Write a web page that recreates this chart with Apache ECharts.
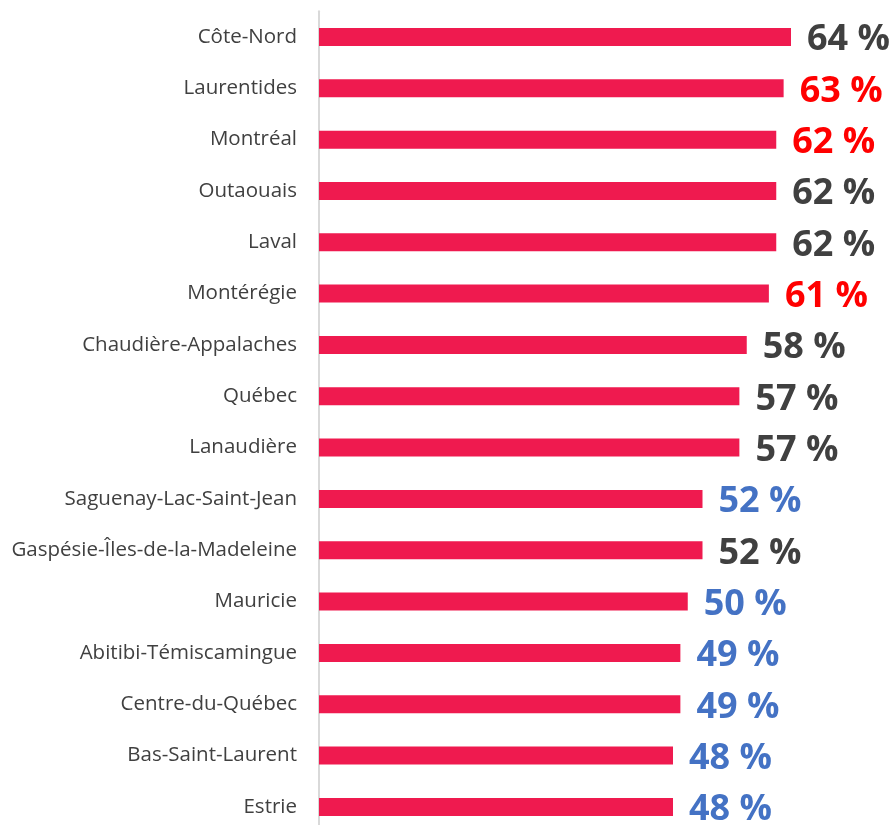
<!DOCTYPE html>
<html>
<head>
<meta charset="utf-8">
<script src="https://cdn.jsdelivr.net/npm/echarts@6/dist/echarts.min.js"></script>
<style>
  html, body { margin: 0; padding: 0; background: #fff; }
  #chart { width: 893px; height: 825px; }
</style>
</head>
<body>
<div id="chart"></div>
<script>
const regions = [
  'Côte-Nord', 'Laurentides', 'Montréal', 'Outaouais', 'Laval', 'Montérégie',
  'Chaudière-Appalaches', 'Québec', 'Lanaudière', 'Saguenay-Lac-Saint-Jean',
  'Gaspésie-Îles-de-la-Madeleine', 'Mauricie', 'Abitibi-Témiscamingue',
  'Centre-du-Québec', 'Bas-Saint-Laurent', 'Estrie'
]
const values = [64, 63, 62, 62, 62, 61, 58, 57, 57, 52, 52, 50, 49, 49, 48, 48]
// label colour group: d = dark, r = red, b = blue
const labelGroups = ['d', 'r', 'r', 'd', 'd', 'r', 'd', 'd', 'd', 'b', 'd', 'b', 'b', 'b', 'b', 'b']

const groupColors = { d: '#404040', r: '#ff0000', b: '#4472c4' }

const chart = echarts.init(document.getElementById('chart'))

const option = {
  animation: false,
  grid: {
    left: 319,
    top: 11.3,
    width: 516.25,
    height: 821.3,
    outerBoundsMode: 'none',
    containLabel: false
  },
  xAxis: {
    type: 'value',
    min: 0,
    max: 70,
    show: false
  },
  yAxis: {
    type: 'category',
    inverse: true,
    data: regions,
    axisLine: { show: true, lineStyle: { color: '#d9d9d9', width: 2 } },
    axisTick: { show: false },
    axisLabel: {
      margin: 22,
      color: '#404040',
      fontSize: 20.5,
      fontFamily: 'Open Sans'
    }
  },
  series: [
    {
      type: 'bar',
      barWidth: 18,
      itemStyle: { color: '#ef1a4f' },
      label: {
        show: true,
        position: 'right',
        distance: 16,
        offset: [0, 3],
        fontSize: 36,
        fontWeight: 'bold',
        fontFamily: 'Open Sans',
        formatter: p => p.value + ' %'
      },
      data: values.map((v, i) => ({
        value: v,
        label: { color: groupColors[labelGroups[i]] }
      }))
    }
  ]
}

chart.setOption(option)
</script>
</body>
</html>
